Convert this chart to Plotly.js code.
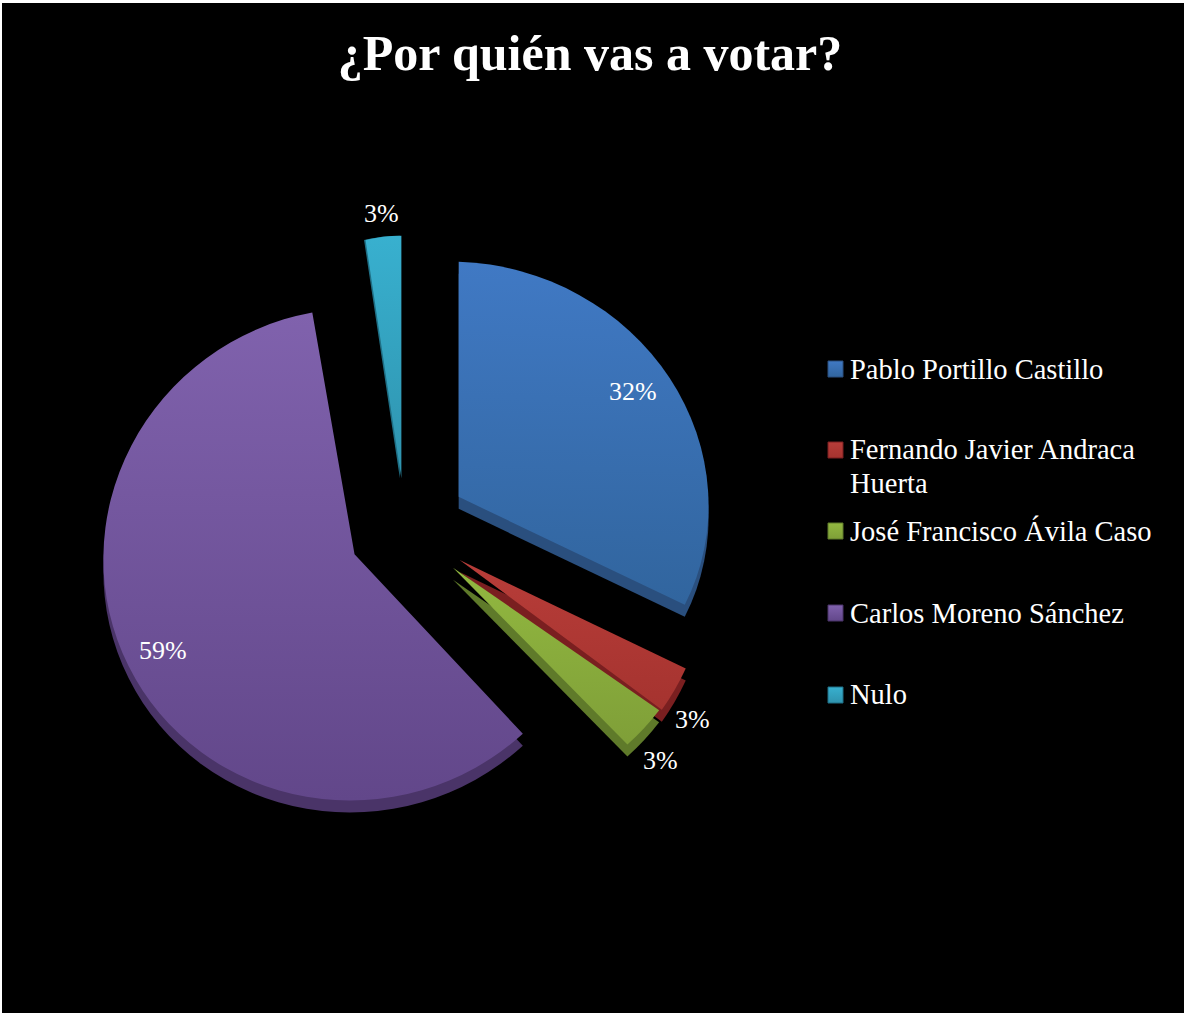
<!DOCTYPE html>
<html lang="es">
<head>
<meta charset="utf-8">
<title>¿Por quién vas a votar?</title>
<script src="https://cdn.plot.ly/plotly-3.0.1.min.js"></script>
<style>
  html, body { margin: 0; padding: 0; background: #fff; overflow: hidden; }
  #chart { position: absolute; left: 2px; top: 3px; width: 1182px; height: 1010px; }
</style>
</head>
<body>
<div id="chart"></div>
<script>
// Encuesta de intención de voto
const chartTitle = '¿Por quién vas a votar?';
const candidates = ['Pablo Portillo Castillo', 'Fernando Javier Andraca<br>Huerta', 'José Francisco Ávila Caso', 'Carlos Moreno Sánchez', 'Nulo'];
const shares = [32, 3, 3, 59, 3];
const topColors = ['#4079c4', '#b83d39', '#92b840', '#8062ad', '#38b0cf'];
const bottomColors = ['#31659e', '#a5332f', '#7f9f38', '#62478a', '#2f93ae'];
const sideColors = ['#2a4f7e', '#7a1f20', '#5f7a2a', '#4a3468', '#1f6f85'];
const swatchColors = ['#3a70b4', '#b23c39', '#88ad3c', '#70539b', '#35a3c2'];

const W = 1182, H = 1010;
const fx = x => (x - 2) / W;
const fy = y => 1 - (y - 3) / H;

const FONT = '"Liberation Serif", serif';
const pieBox = { left: 103, right: 713, top: 222, bottom: 832 };
const depth = 12;
const pull = 0.245;

// Inclinación de la tarta: afín por sector [a, b, c, d, dx, dy] alrededor del vértice
const tilt = [
  [1.02, 0.035, 0, 0.96, 0, 2],
  [1.02, 0, 0, 1.04, 0, 2.5],
  [1.04, 0, 0, 0.99, 0, 1],
  [1.025, 0, -0.02, 1.005, 0, 0],
  [0.78, 0, 0, 0.99, -1, 11]
];
// El sector del fondo solo deja ver su canto izquierdo
const sideShift = [[0, 0], [0, 0], [0, 0], [0, 0], [-1.5, -depth]];

function pieTrace(colors, dy, extra) {
  return Object.assign({
    type: 'pie',
    values: shares,
    labels: candidates,
    sort: false,
    direction: 'clockwise',
    rotation: 0,
    pull: pull,
    textinfo: 'none',
    showlegend: false,
    marker: { colors: colors, line: { width: 0 } },
    domain: {
      x: [fx(pieBox.left), fx(pieBox.right)],
      y: [fy(pieBox.bottom + dy), fy(pieBox.top + dy)]
    }
  }, extra);
}

const traces = [
  pieTrace(sideColors, depth, { hoverinfo: 'skip' }),
  pieTrace(swatchColors, 0, { hoverinfo: 'label+percent' })
];

// Etiquetas de porcentaje junto a cada sector
const pctAnchors = [[633, 391], [692, 719], [660, 760], [163, 650], [381, 214]];
const total = shares.reduce((a, b) => a + b, 0);
const annotations = shares.map((v, i) => ({
  xref: 'paper', yref: 'paper',
  x: fx(pctAnchors[i][0]), y: fy(pctAnchors[i][1]),
  xanchor: 'center', yanchor: 'middle',
  text: Math.round(v / total * 100) + '%',
  showarrow: false,
  font: { family: FONT, size: 26, color: '#fff' }
}));

// Leyenda a la derecha: muestra de color y nombre, una anotación por línea
const legendRows = [[369], [450, 483], [531], [613], [694]];
const swatchRows = [369, 450, 531, 613, 695];
const shapes = [];
candidates.forEach((name, i) => {
  name.split('<br>').forEach((line, k) => {
    annotations.push({
      xref: 'paper', yref: 'paper',
      x: fx(848), y: fy(legendRows[i][k]),
      xanchor: 'left', yanchor: 'middle', align: 'left',
      text: line,
      showarrow: false,
      font: { family: FONT, size: 28.5, color: '#fff' }
    });
  });
  shapes.push({
    type: 'rect', xref: 'paper', yref: 'paper',
    x0: fx(828), x1: fx(843),
    y0: fy(swatchRows[i] + 8), y1: fy(swatchRows[i] - 8),
    fillcolor: swatchColors[i],
    line: { width: 1, color: sideColors[i] }
  });
});

const layout = {
  width: W, height: H,
  margin: { l: 0, r: 0, t: 0, b: 0 },
  paper_bgcolor: '#000',
  plot_bgcolor: '#000',
  title: {
    text: '<b>' + chartTitle + '</b>',
    x: fx(590), xref: 'paper', xanchor: 'center',
    y: fy(52), yref: 'paper', yanchor: 'middle',
    font: { family: FONT, size: 50, color: '#fff' }
  },
  annotations, shapes, showlegend: false
};

Plotly.newPlot('chart', traces, layout, { displayModeBar: false, responsive: false }).then(gd => {
  const svg = gd.querySelector('.main-svg');
  const ns = 'http://www.w3.org/2000/svg';
  const defs = svg.querySelector('defs') || svg.insertBefore(document.createElementNS(ns, 'defs'), svg.firstChild);

  // Degradado vertical para las caras superiores y las muestras
  const makeGradient = i => {
    const g = document.createElementNS(ns, 'linearGradient');
    g.setAttribute('id', 'face' + i);
    g.setAttribute('x1', '0'); g.setAttribute('y1', '0');
    g.setAttribute('x2', '0'); g.setAttribute('y2', '1');
    [[0, topColors[i]], [1, bottomColors[i]]].forEach(([o, c]) => {
      const s = document.createElementNS(ns, 'stop');
      s.setAttribute('offset', o);
      s.setAttribute('stop-color', c);
      g.appendChild(s);
    });
    defs.appendChild(g);
  };
  shares.forEach((_, i) => makeGradient(i));

  const groups = gd.querySelectorAll('.pielayer .trace');
  groups.forEach((group, t) => {
    const isFace = t === groups.length - 1;
    group.querySelectorAll('.slice path.surface').forEach((p, i) => {
      const pt = gd.calcdata[t][i];
      const [a, b, c, d, dx, dy] = tilt[i];
      const sx = isFace ? 0 : sideShift[i][0];
      const sy = isFace ? 0 : sideShift[i][1];
      const ax = pt.cxFinal, ay = pt.cyFinal;
      p.setAttribute('transform',
        `translate(${ax + dx + sx},${ay + dy + sy}) matrix(${a},${b},${c},${d},0,0) translate(${-ax},${-ay})`);
      if (isFace) p.style.setProperty('fill', 'url(#face' + i + ')');
    });
  });

  gd.querySelectorAll('.shapelayer path').forEach((p, i) => {
    p.style.setProperty('fill', 'url(#face' + i + ')');
  });
});
</script>
</body>
</html>
